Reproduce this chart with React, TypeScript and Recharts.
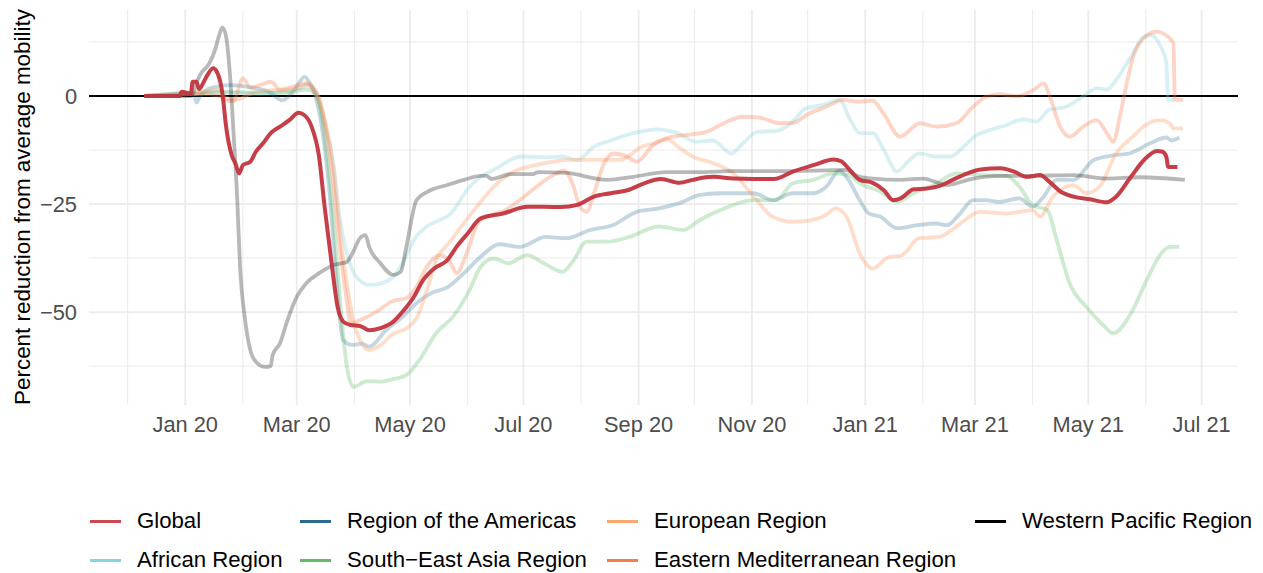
import { Line, LineChart, ReferenceLine, XAxis, YAxis } from 'recharts';

type Pt = [number, number];

// x = days since 1 Jan 2020, y = % change vs. average mobility
const globalPts: Pt[] = [
  [-22, 0], [-3, 0], [-2, 1], [3, 0.5], [4, 3.3], [6, 3.3], [7.5, 1.6], [10, 3.3], [12, 4.9], [15, 6.4],
  [17, 5.6], [20, 0.6], [22, -7.1], [25, -13.7], [27, -15.6], [29, -17.9], [31, -16], [35, -15.2], [38, -12.9],
  [42, -10.9], [46, -8.6], [51, -7.1], [56, -5.6], [61, -3.9], [64, -4.4], [68, -7.1], [72, -14], [75, -25.6],
  [79, -39.5], [82, -48.8], [85, -52.2], [89, -53], [94, -53.2], [99, -54.2], [105, -53.7], [112, -52.2],
  [117, -49.9], [123, -46.5], [128, -42.6], [134, -39.9], [141, -38], [146, -34.9], [152, -31.8], [159, -28.3],
  [171, -27.2], [184, -25.6], [202, -25.7], [211, -25.2], [220, -23.3], [229, -22.5], [238, -21.8], [247, -20.2],
  [256, -19.2], [266, -20.1], [273, -19.4], [284, -18.7], [295, -19.1], [306, -19.2], [317, -19.2], [327, -17.5],
  [338, -16], [349, -14.7], [353, -15.1], [358, -17.3], [363, -19.4], [370, -20.1], [376, -21.8], [381, -24.1],
  [385, -23.7], [392, -21.6], [399, -21.4], [406, -20.8], [413, -19.4], [421, -17.9], [428, -17], [439, -16.7],
  [446, -17.5], [453, -18.7], [460, -18.3], [465, -19.8], [471, -22.1], [478, -23.3], [487, -23.9], [496, -24.6],
  [501, -23.3], [509, -18.7], [516, -14.8], [523, -12.7], [526, -12.9], [528, -14], [529, -16.4], [534, -16.4],
];

const africanPts: Pt[] = [
  [-22, 0], [5, 0.5], [20, 0.8], [40, 0.5], [55, 1], [63, 2], [67, 2.5], [70, 1.5], [74, -4.8], [80, -16.4],
  [83, -27.9], [87, -36.4], [92, -41.8], [99, -43.7], [105, -43.4], [112, -41.8], [117, -38.7], [123, -33.3],
  [130, -30.2], [137, -28.7], [143, -27.2], [148, -24.1], [153, -21], [159, -18.7], [166, -17.1], [181, -14],
  [195, -14.2], [203, -14], [211, -14.8], [220, -11.7], [229, -10.3], [241, -8.6], [254, -7.7], [265, -8.6],
  [275, -10.6], [284, -10.3], [294, -13.3], [300, -11], [308, -8.3], [318, -8.1], [326, -6.3], [334, -2.9],
  [343, -2.1], [352, -0.9], [358, -5.6], [363, -8.6], [370, -8.6], [376, -12.5], [383, -17.5], [388, -15.6],
  [395, -13.3], [404, -14], [412, -14], [419, -11.7], [426, -9], [433, -7.9], [442, -6.7], [451, -5.4],
  [458, -5.9], [465, -3.2], [474, -2.5], [482, -0.5], [491, 1.8], [496, 1.5], [501, 3.7], [509, 9.1],
  [516, 13.7], [520, 14.1], [525, 11.4], [528, 7.9], [529, -0.9], [532, -0.9],
];

const americasPts: Pt[] = [
  [-22, 0], [0, 0.5], [5, 0], [6, -1.5], [8, 0], [15, 2], [25, 2.5], [35, 2], [45, 1], [52, -1], [57, 0.5],
  [62, 3.5], [64, 4.5], [67, 3], [70, 0], [74, -8.6], [78, -24.1], [81.5, -43.4], [85, -56.5], [90, -57.6],
  [95, -57.3], [99, -58], [108, -54.2], [117, -51.1], [126, -47.4], [133, -45.5], [141, -44.3], [150, -41],
  [159, -37.2], [169, -34.3], [180, -34.9], [194, -32.6], [205, -32.9], [218, -31], [230, -29.9], [243, -26.8],
  [255, -26], [266, -24.8], [277, -22.9], [288, -22.5], [306, -22.5], [316, -24.1], [327, -22.5], [338, -22.5],
  [345, -21], [352, -17.3], [357, -19.4], [363, -24.1], [368, -27.2], [374, -27.9], [383, -30.6], [394, -29.9],
  [404, -29.5], [410, -29.9], [417, -27.2], [424, -24.1], [431, -24.1], [438, -24.5], [449, -23.7], [456, -25.6],
  [462, -23.3], [469, -19.4], [478, -19.4], [489, -14.8], [500, -13.7], [508, -13.3], [519, -11], [528, -9.6],
  [531, -10.3], [535, -9.6],
];

const europeanPts: Pt[] = [
  [-22, 0], [5, 0.5], [18, 1.4], [22, -0.5], [28, -0.8], [35, 0.5], [45, 1.3], [58, 1.5], [67, 2.9], [70, 0.5],
  [76, -7.1], [79.7, -16.4], [83.3, -31.8], [87, -43.4], [90.4, -51.9], [94, -56.5], [99, -58.8], [105, -57.7],
  [112, -55], [119, -53.8], [125, -51], [130, -45], [135, -38], [142, -34], [148, -30.5], [157, -25.6],
  [166, -21], [175, -17.9], [193, -15.6], [207, -14.8], [223, -14.8], [234, -14.8], [246, -11.7], [252, -11],
  [259, -10], [266, -12], [273, -14], [284, -15.5], [295, -17.9], [306, -23.3], [316, -27.9], [327, -29.1],
  [337, -28.7], [345, -27.5], [350, -26], [356, -28], [363, -36.4], [370, -39.9], [379, -37.2], [385, -37],
  [395, -32.9], [406, -32.6], [415, -30.2], [428, -26.8], [442, -27.2], [456, -26.4], [460, -27.9], [467, -23.3],
  [478, -20.6], [485, -22.5], [492, -21], [501, -13.3], [510, -9.4], [517, -6.7], [525, -5.6], [530, -6.4],
  [532, -7.5], [537, -7.5],
];

const seAsiaPts: Pt[] = [
  [-22, 0], [0, 0.8], [20, 1], [40, 0.8], [55, 0.8], [65, 1.5], [69, 1], [72.5, -2.5], [76, -12.5],
  [79.7, -27.9], [83.3, -47.2], [87, -62.7], [90.5, -67.3], [97.6, -66], [105, -66.1], [112, -65.5],
  [119, -64.6], [126, -61.1], [135, -54.9], [144, -51.1], [153, -44.9], [159, -39.5], [166, -37.6], [174, -38.7],
  [184, -36.8], [193, -38.7], [203, -40.7], [209, -38], [216, -33.7], [227, -33.7], [239, -32.6], [255, -30.2],
  [268, -31], [277, -28.7], [288, -26.4], [306, -24.1], [318, -24.1], [327, -20.2], [338, -19.4], [349, -17.9],
  [357, -18.3], [363, -20.2], [374, -22.1], [383, -24.5], [392, -22.5], [403, -20.6], [415, -17.9], [430, -18.3],
  [442, -18.5], [449, -21], [456, -25.2], [464, -26.4], [469, -33.3], [476, -43.4], [485, -48.8], [494, -53],
  [499.5, -54.9], [508.5, -50.7], [517.5, -42.6], [524.6, -36.8], [530, -34.9], [535, -34.9],
];

const eastMedPts: Pt[] = [
  [-22, 0], [10, 0.5], [18, 0], [22, -1], [26, -1.2], [31, 4.1], [35, 2], [40, 2.5], [46, 3.3], [51, 1.5],
  [57, 2], [65, 2.9], [68, 2], [72.5, -0.9], [76, -8.6], [79.7, -20.2], [83.3, -35.6], [86.9, -47.2], [89, -52.6],
  [96, -51.5], [103, -49.9], [112, -47.4], [119, -46.8], [124.5, -44.1], [130, -39.5], [137, -36.8],
  [142.5, -38.4], [146, -41], [151.5, -36.4], [158, -29], [165, -27.5], [172, -26.5], [180, -24.1], [189, -21],
  [198, -18.3], [204, -17.3], [209, -21], [212.4, -25.6], [216, -26.8], [220.5, -21.8], [225, -16],
  [230.4, -13.3], [237.6, -14], [243, -15.2], [252, -11.3], [259, -9.8], [270, -9], [280.6, -8.3], [288, -6.7],
  [300, -4.8], [309, -5], [320, -6.3], [327, -6.2], [336, -4], [345, -2.5], [354, -0.9], [363, -1.3], [370, -1.1],
  [375.7, -4], [384.7, -9.4], [395.4, -6.3], [404.4, -7.1], [415, -6.3], [424, -2.5], [431, -0.2], [438.5, 0.4],
  [447.5, -0.1], [456.5, 1.4], [462, 2.9], [465.4, -0.2], [470.8, -7.1], [476.2, -9.4], [483.3, -7.1],
  [490.5, -5.6], [496, -8.6], [499.5, -10.6], [503, -4.8], [506.7, 2.9], [510.2, 9.1], [515.6, 13.3],
  [522.8, 14.9], [529, 13.7], [531.8, 12.2], [532.7, -0.9], [537, -0.9],
];

const westPacificPts: Pt[] = [
  [-22, 0], [3, 0], [7, 4], [9, 5.6], [11, 6.4], [13, 7.6], [16, 10.6], [18, 13.7], [20, 15.9], [22, 13.7],
  [24, 5.3], [26, -8.6], [28, -24.1], [29.5, -39.5], [32, -51.1], [35, -58.8], [38, -61.5], [43, -62.7],
  [46, -62.5], [47, -60], [51, -57.2], [55, -51.9], [60, -46.5], [65, -43.4], [72, -41], [80, -39.1],
  [87, -38.4], [90, -36.4], [94, -32.9], [97, -32.2], [99, -34.9], [105, -38.7], [112, -41.4], [116, -40.7],
  [119, -34.9], [124.5, -24.1], [132, -21.8], [141, -20.6], [150, -19.4], [159, -18.5], [162, -18.5],
  [165, -19.2], [175, -18.1], [187, -18.1], [190, -17.6], [205, -17.8], [227, -19.4], [241, -18.7], [259, -17.6],
  [277, -17.6], [295, -17.4], [318, -17.4], [345, -17.2], [355, -17.1], [363, -18.7], [370, -19.1], [385, -19.4],
  [397, -19.1], [410, -20.6], [424, -19.1], [438, -18.5], [453, -18.5], [478, -18.3], [496, -19.1], [514, -18.8],
  [538, -19.4],
];

const monthStarts = [
  '2019-12-01', '2020-01-01', '2020-02-01', '2020-03-01', '2020-04-01', '2020-05-01', '2020-06-01',
  '2020-07-01', '2020-08-01', '2020-09-01', '2020-10-01', '2020-11-01', '2020-12-01', '2021-01-01',
  '2021-02-01', '2021-03-01', '2021-04-01', '2021-05-01', '2021-06-01', '2021-07-01',
];
const monthNames = ['Jan', 'Feb', 'Mar', 'Apr', 'May', 'Jun', 'Jul', 'Aug', 'Sep', 'Oct', 'Nov', 'Dec'];
const yMajor = [-50, -25, 0];
const yMinor = [-62.5, -37.5, -12.5, 12.5];

const dayOf = (iso: string) => (Date.parse(iso) - Date.parse('2020-01-01')) / 86400000;
const toRows = (pts: Pt[]) => pts.map(([day, v]) => ({ day, v }));

const series = [
  { name: 'African Region', pts: africanPts, color: '#86d0de', alpha: 0.32 },
  { name: 'Region of the Americas', pts: americasPts, color: '#2c6a90', alpha: 0.28 },
  { name: 'European Region', pts: europeanPts, color: '#fca46c', alpha: 0.36 },
  { name: 'South\u2212East Asia Region', pts: seAsiaPts, color: '#5db867', alpha: 0.3 },
  { name: 'Eastern Mediterranean Region', pts: eastMedPts, color: '#f97a4a', alpha: 0.32 },
  { name: 'Western Pacific Region', pts: westPacificPts, color: '#000000', alpha: 0.28 },
  { name: 'Global', pts: globalPts, color: '#c2343e', alpha: 0.95 },
];

const legendItems = [
  { name: 'Global', color: '#ca4a53', x: 90, row: 0 },
  { name: 'Region of the Americas', color: '#2d6a8f', x: 300, row: 0 },
  { name: 'European Region', color: '#fda66d', x: 607, row: 0 },
  { name: 'Western Pacific Region', color: '#000000', x: 975, row: 0 },
  { name: 'African Region', color: '#88d2df', x: 90, row: 1 },
  { name: 'South\u2212East Asia Region', color: '#62bb6b', x: 300, row: 1 },
  { name: 'Eastern Mediterranean Region', color: '#fa7a4a', x: 607, row: 1 },
];

const FONT = '"Liberation Sans", Arial, Helvetica, sans-serif';

function XTick({ x, y, payload }: any) {
  const d = new Date(Date.UTC(2020, 0, 1) + payload.value * 86400000);
  const label = `${monthNames[d.getUTCMonth()]} ${String(d.getUTCFullYear()).slice(2)}`;
  return (
    <text x={x} y={y + 19} textAnchor="middle" dominantBaseline="central" fill="#4d4d4d" fontSize={21.8} fontFamily={FONT}>
      {label}
    </text>
  );
}

function YTick({ x, y, payload }: any) {
  const v = payload.value;
  return (
    <text x={x - 12} y={y} textAnchor="end" dominantBaseline="central" fill="#4d4d4d" fontSize={21.8} fontFamily={FONT}>
      {v < 0 ? `\u2212${Math.abs(v)}` : v}
    </text>
  );
}

export default function App() {
  const monthDays = monthStarts.map(dayOf);
  const labelled = monthDays.filter((_, i) => i % 2 === 1);

  return (
    <div style={{ position: 'absolute', left: 0, top: 0, width: 1263, height: 573, background: '#fff', fontFamily: FONT }}>
      <LineChart width={1263} height={573} margin={{ top: 10, right: 25, bottom: 138, left: 29 }}>
        {monthDays.map((d, i) => (
          <ReferenceLine key={`v${d}`} x={d} stroke="#ebebeb" strokeWidth={i % 2 === 1 ? 1.8 : 1} />
        ))}
        {yMinor.map((v) => (
          <ReferenceLine key={`m${v}`} y={v} stroke="#ebebeb" strokeWidth={1} />
        ))}
        {yMajor.map((v) => (
          <ReferenceLine key={`M${v}`} y={v} stroke="#ebebeb" strokeWidth={1.8} />
        ))}
        <XAxis
          type="number"
          dataKey="day"
          domain={[-51.8, 566.6]}
          ticks={labelled}
          tick={<XTick />}
          tickLine={false}
          axisLine={false}
          tickSize={0}
          tickMargin={0}
          height={30}
          allowDataOverflow
        />
        <YAxis
          type="number"
          domain={[-71.5, 19.9]}
          ticks={yMajor}
          tick={<YTick />}
          tickLine={false}
          axisLine={false}
          tickSize={0}
          tickMargin={0}
          width={60}
          allowDataOverflow
        />
        <ReferenceLine y={0} stroke="#000" strokeWidth={2} />
        {series.map((s) => (
          <Line
            key={s.name}
            data={toRows(s.pts)}
            dataKey="v"
            name={s.name}
            type="monotone"
            stroke={s.color}
            strokeOpacity={s.alpha}
            strokeWidth={s.name === 'Global' ? 4 : 3.8}
            dot={false}
            activeDot={false}
            isAnimationActive={false}
          />
        ))}
      </LineChart>

      <div
        style={{
          position: 'absolute',
          left: 22.5,
          top: 207,
          transform: 'translate(-50%, -50%) rotate(-90deg)',
          whiteSpace: 'nowrap',
          fontSize: 22.4,
          color: '#000',
        }}
      >
        Percent reduction from average mobility
      </div>

      {legendItems.map((it) => (
        <div
          key={it.name}
          style={{
            position: 'absolute',
            left: it.x,
            top: it.row === 0 ? 521 : 560,
            transform: 'translateY(-50%)',
            display: 'flex',
            alignItems: 'center',
            whiteSpace: 'nowrap',
            fontSize: 22.2,
            color: '#000',
          }}
        >
          <span style={{ display: 'inline-block', width: 31, height: 3, background: it.color, marginRight: 16 }} />
          <span>{it.name}</span>
        </div>
      ))}
    </div>
  );
}
